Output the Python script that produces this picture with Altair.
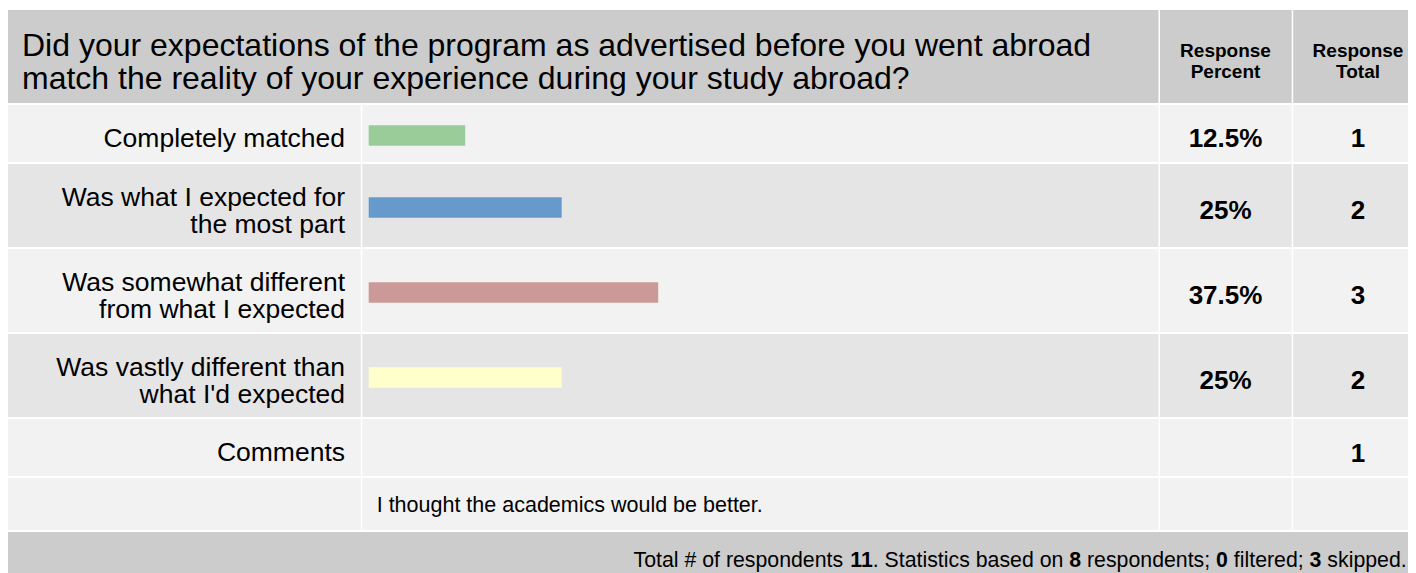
import altair as alt
import pandas as pd

# ---------------- data ----------------
question_lines = [
    "Did your expectations of the program as advertised before you went abroad",
    "match the reality of your experience during your study abroad?",
]
answers = [
    "Completely matched",
    "Was what I expected for\nthe most part",
    "Was somewhat different\nfrom what I expected",
    "Was vastly different than\nwhat I'd expected",
]
percents = [12.5, 25, 37.5, 25]
percent_labels = ["12.5%", "25%", "37.5%", "25%"]
totals = [1, 2, 3, 2]
bar_colors = ["#99cc99", "#6699cc", "#cc9999", "#ffffcc"]
comment_label = "Comments"
comment_total = 1
comments = ["I thought the academics would be better."]
header_cols = ["Response\nPercent", "Response\nTotal"]
footer_parts = [
    ("Total # of respondents ", False), ("11", True),
    (". Statistics based on ", False), ("8", True),
    (" respondents; ", False), ("0", True),
    (" filtered; ", False), ("3", True), (" skipped.", False),
]

# ---------------- layout (pixels) ----------------
W, H = 1400, 563
GAP = 2
HEADER_H = 93
ROW_H = [57, 83, 83, 83]
COMMENT_H = 57
COMMENT_TEXT_H = 52
COLS = [(0, 352.8), (354.3, 1150.5), (1152, 1283.7), (1285.2, W)]
HEADER_COLS = [(0, 1150.5), (1152, 1283.7), (1285.2, W)]
C_HEAD = "#cccccc"
C_LIGHT = "#f2f2f2"
C_DARK = "#e5e5e5"
FONT = "Liberation Sans"

LABEL_X = 337
LABEL_FS = 26.5
LABEL_LH = 27.3
LABEL_DY = 13.8
PCT_X = 1217.5
TOT_X = 1350
NUM_FS = 26
TITLE_X, TITLE_Y, TITLE_LH, TITLE_FS = 14, 46.2, 33, 32
HEAD_Y, HEAD_LH, HEAD_FS = 46.7, 21, 19
COMMENT_X, COMMENT_FS = 368.7, 21.5
FOOT_X, FOOT_FS = 1398.7, 21.3
BAR_X0, BAR_PX_PER_PCT = 360.7, 7.72

# ---------------- build tables ----------------
cells = []
for x0, x1 in HEADER_COLS:
    cells.append(dict(x0=x0, x1=x1, y0=0, y1=HEADER_H, c=C_HEAD))
y = HEADER_H + GAP
row_centers = []
for i, h in enumerate(ROW_H):
    col = C_LIGHT if i % 2 == 0 else C_DARK
    for x0, x1 in COLS:
        cells.append(dict(x0=x0, x1=x1, y0=y, y1=y + h, c=col))
    row_centers.append(y + h / 2)
    y += h + GAP
comment_center = y + COMMENT_H / 2
for x0, x1 in COLS:
    cells.append(dict(x0=x0, x1=x1, y0=y, y1=y + COMMENT_H, c=C_LIGHT))
y += COMMENT_H + GAP
comment_text_top = y
for x0, x1 in COLS:
    cells.append(dict(x0=x0, x1=x1, y0=y, y1=y + COMMENT_TEXT_H, c=C_LIGHT))
y += COMMENT_TEXT_H + GAP
footer_top = y
cells.append(dict(x0=0, x1=W, y0=y, y1=H, c=C_HEAD))
cells_df = pd.DataFrame(cells)

bars_df = pd.DataFrame({
    "answer": answers,
    "pct": percents,
    "yc": row_centers,
})

label_rows = []
for text, yc in zip(answers + [comment_label], row_centers + [comment_center]):
    lines = text.split("\n")
    n = len(lines)
    for k, ln in enumerate(lines):
        label_rows.append(dict(t=ln, x=LABEL_X, y=yc + LABEL_DY + (k - (n - 1) / 2) * LABEL_LH))
labels_df = pd.DataFrame(label_rows)

num_rows = []
for pl, tot, yc in zip(percent_labels, totals, row_centers):
    num_rows.append(dict(t=pl, x=PCT_X, y=yc + LABEL_DY))
    num_rows.append(dict(t=str(tot), x=TOT_X, y=yc + LABEL_DY))
num_rows.append(dict(t=str(comment_total), x=TOT_X, y=comment_center + LABEL_DY + 1))
nums_df = pd.DataFrame(num_rows)

title_df = pd.DataFrame([dict(t=t, x=TITLE_X, y=TITLE_Y + k * TITLE_LH) for k, t in enumerate(question_lines)])

head_rows = []
for t, xc in zip(header_cols, [PCT_X, TOT_X]):
    for k, ln in enumerate(t.split("\n")):
        head_rows.append(dict(t=ln, x=xc, y=HEAD_Y + k * HEAD_LH))
head_df = pd.DataFrame(head_rows)

comment_df = pd.DataFrame([dict(t=c, x=COMMENT_X, y=comment_text_top + 34.3) for c in comments])

# footer: right-aligned pieces, widths from Arial/Liberation metrics
AW = {" ": 278, "T": 611, "o": 556, "t": 278, "a": 556, "l": 222, "#": 556, "f": 278,
      "r": 333, "e": 556, "s": 500, "p": 556, "n": 556, "d": 556, ".": 278, "S": 667,
      "i": 222, "c": 500, "b": 556, ";": 278, "k": 500}
for dgt in "0123456789":
    AW[dgt] = 556


def tw(s):
    return sum(AW.get(ch, 556) for ch in s) / 1000 * FOOT_FS


foot_rows = []
xe = FOOT_X
for text, bold in reversed(footer_parts):
    trail = len(text) - len(text.rstrip(" "))
    foot_rows.append(dict(t=text.strip(" "), x=xe - tw(" " * trail), y=footer_top + 35.3, b=bold))
    xe -= tw(text)
foot_df = pd.DataFrame(foot_rows)

# ---------------- chart ----------------
xs = alt.Scale(domain=[0, W], range=[0, W], nice=False, zero=False)
ys = alt.Scale(domain=[0, H], range=[0, H], nice=False, zero=False)


def X(f):
    return alt.X(f, type="quantitative", scale=xs, axis=None)


def Y(f):
    return alt.Y(f, type="quantitative", scale=ys, axis=None)


bg = alt.Chart(cells_df).mark_rect().encode(
    x=X("x0"), x2="x1", y=Y("y0"), y2="y1",
    color=alt.Color("c:N", scale=None),
)

bars = alt.Chart(bars_df).transform_calculate(
    zero="0", b0="datum.yc - 8.2", b1="datum.yc + 12.2"
).mark_rect().encode(
    x=alt.X("pct:Q", scale=alt.Scale(domain=[0, 100], range=[BAR_X0, BAR_X0 + 100 * BAR_PX_PER_PCT], nice=False), axis=None),
    x2="zero:Q",
    y=Y("b0"), y2="b1:Q",
    color=alt.Color("answer:N", scale=alt.Scale(domain=answers, range=bar_colors), legend=None),
)


def txt(df, align, size, weight="normal"):
    return alt.Chart(df).mark_text(
        align=align, baseline="alphabetic", font=FONT, fontSize=size,
        fontWeight=weight, color="#000000",
    ).encode(x=X("x"), y=Y("y"), text="t:N")


layers = [
    bg, bars,
    txt(title_df, "left", TITLE_FS),
    txt(head_df, "center", HEAD_FS, "bold"),
    txt(labels_df, "right", LABEL_FS),
    txt(nums_df, "center", NUM_FS, "bold"),
    txt(comment_df, "left", COMMENT_FS),
    txt(foot_df[~foot_df.b], "right", FOOT_FS),
    txt(foot_df[foot_df.b], "right", FOOT_FS, "bold"),
]

chart = alt.layer(*layers).resolve_scale(x="independent").properties(
    width=W, height=H,
    autosize=alt.AutoSizeParams(type="none"),
    padding={"left": 0, "top": 2, "right": 0, "bottom": 0},
    background="white",
).configure_view(stroke=None)

chart.save("out.html", embed_options={"renderer": "svg", "actions": False})
